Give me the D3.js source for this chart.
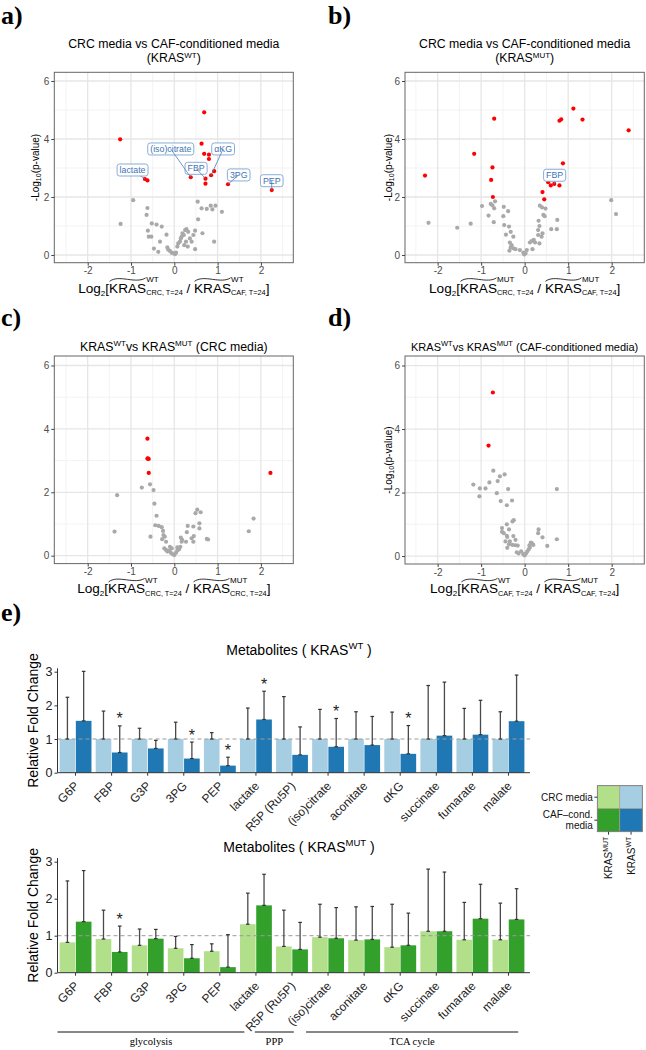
<!DOCTYPE html>
<html><head><meta charset="utf-8">
<script src="https://cdnjs.cloudflare.com/ajax/libs/d3/7.8.5/d3.min.js"></script>
<style>
body{margin:0;background:#fff}
svg{display:block}
text{font-family:"Liberation Sans",Arial,Helvetica,sans-serif;white-space:pre}
</style></head>
<body><svg id="c" width="646" height="1050"></svg>
<script>
// ---------------- DATA ----------------
// Volcano a) KRAS WT: CRC vs CAF-conditioned  [log2FC, -log10 p]
const aRed=[[-1.25,3.99],[0.69,4.92],[0.63,3.84],[0.69,3.49],[0.80,3.46],[0.80,3.31],[0.92,2.89],[0.85,2.75],[0.72,2.63],[0.72,2.46],[0.38,2.68],[-0.68,2.62],[-0.62,2.57],[1.24,2.44],[2.25,2.24]];
const aGray=[[-0.95,1.89],[-0.62,1.62],[-0.64,1.38],[-1.24,1.07],[-0.52,1.09],[-0.41,1.05],[-0.29,0.98],[-0.61,0.84],[-0.18,0.70],[-0.59,0.63],[-0.53,0.63],[-0.33,0.46],[-0.47,0.22],[-0.37,0.11],[-0.16,0.26],[-0.14,0.18],[-0.10,0.14],[-0.06,0.08],[-0.02,0.06],[0.02,0.03],[0.04,0.08],[0.07,0.29],[0.09,0.40],[0.13,0.46],[0.17,0.63],[0.19,0.75],[0.22,0.69],[0.25,0.86],[0.28,0.89],[0.32,0.80],[0.27,0.46],[0.31,0.29],[0.23,0.34],[0.36,0.57],[0.40,0.46],[0.44,0.69],[0.48,0.84],[0.48,0.20],[0.55,1.23],[0.54,1.84],[0.63,1.61],[0.75,1.59],[0.84,1.70],[0.88,1.57],[0.95,1.70],[1.10,1.49],[0.65,0.75],[0.92,0.46],[0.15,0.57]];
const aLabels=[{name:"lactate",x:-0.68,y:2.62},{name:"(iso)citrate",x:0.38,y:2.68},{name:"FBP",x:0.72,y:2.63},{name:"αKG",x:0.85,y:2.75},{name:"3PG",x:1.24,y:2.44},{name:"PEP",x:2.25,y:2.24}];

// Volcano b) KRAS MUT: CRC vs CAF-conditioned
const bRed=[[-2.29,2.74],[-1.16,3.49],[-0.70,4.70],[-0.74,3.02],[-0.77,2.59],[-0.73,2.00],[1.12,5.05],[1.33,4.67],[0.84,4.68],[0.80,4.63],[0.88,3.16],[2.39,4.30],[0.41,2.17],[0.45,1.92],[0.54,2.51],[0.60,2.40],[0.68,2.45],[0.80,2.40]];
const bGray=[[-2.21,1.11],[-1.55,0.94],[-1.24,1.08],[-0.98,1.69],[-0.83,1.36],[-0.78,1.76],[-0.74,1.71],[-0.70,1.61],[-0.68,1.85],[-0.71,1.13],[-0.48,1.66],[-0.38,1.51],[-0.49,1.34],[-0.47,1.03],[-0.36,0.98],[-0.32,0.80],[-0.26,0.63],[-0.43,0.70],[-0.34,0.43],[-0.30,0.34],[-0.32,0.26],[-0.35,0.15],[-0.26,0.23],[-0.21,0.20],[-0.11,0.17],[-0.03,0.08],[-0.01,0.02],[0.02,0.06],[0.05,0.17],[0.12,0.43],[0.16,0.48],[0.18,0.20],[0.21,0.52],[0.24,0.43],[0.31,0.69],[0.34,0.40],[0.31,0.86],[0.34,1.00],[0.32,1.18],[0.35,1.70],[0.40,1.64],[0.43,1.38],[0.48,1.60],[0.46,1.34],[0.41,0.75],[0.39,0.63],[0.61,0.89],[0.74,0.89],[0.75,1.21],[1.99,1.89],[2.10,1.41]];
const bLabels=[{name:"FBP",x:0.68,y:2.45}];

// Volcano c) WT vs MUT (CRC media)
const cRed=[[-0.62,3.69],[-0.61,3.07],[-0.59,3.05],[-0.62,3.06],[-0.59,2.61],[2.22,2.61]];
const cGray=[[-1.32,1.91],[-1.38,0.76],[-0.75,2.15],[-0.56,2.25],[-0.48,2.07],[-0.46,1.64],[-0.41,1.26],[-0.55,0.60],[-0.44,0.96],[-0.36,0.94],[-0.29,0.90],[-0.26,0.78],[-0.25,0.65],[-0.22,0.60],[-0.28,0.52],[-0.19,0.44],[-0.23,0.23],[-0.19,0.18],[-0.16,0.13],[-0.12,0.16],[-0.08,0.09],[-0.04,0.05],[0.00,0.02],[0.04,0.09],[0.07,0.16],[0.11,0.20],[0.14,0.28],[0.17,0.44],[0.15,0.57],[0.18,0.50],[0.27,0.44],[0.29,0.74],[0.31,0.94],[0.40,0.55],[0.44,0.44],[0.45,0.62],[0.44,0.92],[0.49,1.34],[0.53,1.45],[0.61,1.37],[0.58,1.02],[0.58,0.86],[0.75,0.53],[0.78,0.51],[1.72,0.77],[1.83,1.17],[-0.10,0.28],[-0.06,0.23],[0.07,0.26]];

// Volcano d) WT vs MUT (CAF-conditioned media)
const dRed=[[-0.73,5.15],[-0.83,3.48]];
const dGray=[[-1.18,2.25],[-1.03,2.13],[-0.90,2.13],[-0.81,2.32],[-1.04,1.88],[-0.72,2.69],[-0.62,2.36],[-0.57,2.51],[-0.46,2.57],[-0.64,1.98],[-0.38,2.11],[-0.55,1.73],[-0.41,1.60],[-0.29,1.75],[-0.28,1.09],[-0.25,1.13],[-0.41,1.00],[-0.52,0.88],[-0.52,0.76],[-0.48,0.72],[-0.36,0.84],[-0.41,0.64],[-0.40,0.60],[-0.26,0.63],[-0.44,0.46],[-0.34,0.46],[-0.36,0.37],[-0.21,0.51],[-0.21,0.34],[-0.28,0.35],[-0.40,0.26],[-0.16,0.33],[-0.18,0.12],[-0.14,0.08],[-0.08,0.15],[-0.03,0.06],[0.00,0.02],[0.03,0.08],[0.06,0.14],[0.09,0.21],[0.12,0.27],[0.14,0.42],[0.17,0.40],[0.20,0.35],[0.11,0.34],[0.32,0.84],[0.31,0.72],[0.41,0.59],[0.52,0.32],[0.74,2.11],[0.74,0.53]];

const volcanoXTicks=[-2,-1,0,1,2];
const volcanoYTicks=[0,2,4,6];

// Bar charts
const metabolites=["G6P","FBP","G3P","3PG","PEP","lactate","R5P (Ru5P)","(iso)citrate","aconitate","αKG","succinate","fumarate","malate"];
const wtCRC=[1,1,1,1,1,1,1,1,1,1,1,1,1];
const wtCRCsd=[1.24,0.83,0.32,0.50,0.19,0.92,1.26,0.88,0.81,0.80,1.59,0.91,0.81];
const wtCAF=[1.54,0.60,0.72,0.42,0.21,1.58,0.53,0.77,0.82,0.56,1.10,1.13,1.53];
const wtCAFsd=[1.47,0.79,0.24,0.49,0.25,0.84,0.83,0.84,0.85,0.84,1.59,1.02,1.37];
const wtSig=["FBP","3PG","PEP","lactate","(iso)citrate","αKG"];
const mutCRC=[0.82,0.91,0.74,0.66,0.58,1.31,0.71,0.96,0.88,0.69,1.12,0.89,0.89];
const mutCRCsd=[1.66,0.78,0.44,0.32,0.20,0.84,0.98,0.89,0.90,1.16,1.68,1.01,0.99];
const mutCAF=[1.38,0.56,0.92,0.39,0.15,1.82,0.63,0.93,0.90,0.74,1.12,1.46,1.44];
const mutCAFsd=[1.38,0.70,0.25,0.37,0.88,0.84,0.73,0.83,0.89,0.87,1.60,0.93,0.83];
const mutSig=["FBP"];
const barYTicks=[0,1,2,3];
const pathways=["glycolysis","PPP","TCA cycle"];
const legendRows=["CRC media","CAF\u2013cond.|media"];

// ---------------- DRAWING ----------------
const svg=d3.select("#c");
svg.append("rect").attr("width",646).attr("height",1050).attr("fill","#fff");

// rich text: segments laid out left to right; "stack" puts a segment at the same x as the previous one
function rich(parent,segs,x,y,anchor,base,color){
  const g=parent.append("g");
  let cx=0,lastStart=0;const placed=[];
  segs.forEach(s=>{
    const size=s.size||base;
    const sx=s.stack?lastStart:cx;
    const t=g.append("text").attr("x",sx).attr("y",s.dy||0).style("font-size",size+"px")
      .attr("fill",color||"#000").text(s.t);
    const w=t.node().getComputedTextLength();
    placed.push({s,x:sx,w,size});
    if(s.stack){cx=Math.max(cx,sx+w);}else{lastStart=sx;cx=sx+w;}
  });
  const off=anchor==="middle"?-cx/2:anchor==="end"?-cx:0;
  g.attr("transform",`translate(${x+off},${y})`);
  placed.filter(p=>p.s.hat).forEach(p=>{
    const x0=p.x+0.5,x1=p.x+p.w-0.5,yt=-p.size*0.93,w=x1-x0;
    g.append("path").attr("fill","none").attr("stroke",color||"#000").attr("stroke-width",0.8)
      .attr("d",`M${x0},${yt+1.5} C${x0+w*0.12},${yt-2} ${x0+w*0.3},${yt-1.5} ${x0+w*0.5},${yt-0.5} S${x1-w*0.12},${yt+1} ${x1},${yt-2}`);
  });
  return g;
}

function panelLetter(t,x,y){
  svg.append("text").attr("x",x).attr("y",y).text(t)
    .style("font-family",'"Liberation Serif","Times New Roman",serif').style("font-weight","bold").style("font-size","26px");
}

function volcano(o){
  const x=d3.scaleLinear().domain(o.xd).range([o.l,o.r]);
  const y=d3.scaleLinear().domain(o.yd).range([o.b,o.t]);
  const g=svg.append("g");
  g.append("rect").attr("x",o.l).attr("y",o.t).attr("width",o.r-o.l).attr("height",o.b-o.t).attr("fill","#fff");
  const xMinor=[-2.5,-1.5,-0.5,0.5,1.5,2.5],yMinor=[1,3,5];
  g.selectAll(".xm").data(xMinor).join("line").attr("x1",d=>x(d)).attr("x2",d=>x(d)).attr("y1",o.t).attr("y2",o.b).attr("stroke","#f0f0f0").attr("stroke-width",0.8);
  g.selectAll(".ym").data(yMinor).join("line").attr("y1",d=>y(d)).attr("y2",d=>y(d)).attr("x1",o.l).attr("x2",o.r).attr("stroke","#f0f0f0").attr("stroke-width",0.8);
  g.selectAll(".xM").data(volcanoXTicks).join("line").attr("x1",d=>x(d)).attr("x2",d=>x(d)).attr("y1",o.t).attr("y2",o.b).attr("stroke","#e6e6e6").attr("stroke-width",1.3);
  g.selectAll(".yM").data(volcanoYTicks).join("line").attr("y1",d=>y(d)).attr("y2",d=>y(d)).attr("x1",o.l).attr("x2",o.r).attr("stroke","#e6e6e6").attr("stroke-width",1.3);
  g.selectAll(".gp").data(o.gray).join("circle").attr("cx",d=>x(d[0])).attr("cy",d=>y(d[1])).attr("r",2.1).attr("fill","#a9a9a9");
  g.selectAll(".rp").data(o.red).join("circle").attr("cx",d=>x(d[0])).attr("cy",d=>y(d[1])).attr("r",2.1).attr("fill","#f00");
  (o.labels||[]).forEach(L=>{
    const px=x(L.x),py=y(L.y);const off=o.labelOff[L.name];
    const bx=px+off[0],by=py+off[1];
    g.append("line").attr("x1",px).attr("y1",py).attr("x2",bx).attr("y2",by).attr("stroke","#4f7fb8").attr("stroke-width",0.8);
    const t=g.append("text").attr("x",bx).attr("y",by+3.1).attr("text-anchor","middle").style("font-size","8.8px").attr("fill","#3e74b4").text(L.name);
    const w=t.node().getComputedTextLength();
    g.insert("rect","text").attr("x",bx-w/2-2.5).attr("y",by-6).attr("width",w+5).attr("height",12).attr("rx",2.5)
      .attr("fill","#fff").attr("stroke","#7da3d1").attr("stroke-width",0.9);
    t.raise();
  });
  g.append("rect").attr("x",o.l).attr("y",o.t).attr("width",o.r-o.l).attr("height",o.b-o.t).attr("fill","none").attr("stroke","#666").attr("stroke-width",1);
  const ax=g.append("g").attr("transform",`translate(0,${o.b})`).call(d3.axisBottom(x).tickValues(volcanoXTicks).tickSize(3).tickPadding(1.5).tickFormat(d=>String(d)));
  const ay=g.append("g").attr("transform",`translate(${o.l},0)`).call(d3.axisLeft(y).tickValues(volcanoYTicks).tickSize(3).tickPadding(2).tickFormat(d=>String(d)));
  [ax,ay].forEach(a=>{a.select(".domain").remove();a.selectAll("line").attr("stroke","#444");a.selectAll("text").style("font-size","10px").attr("fill","#4d4d4d").style("font-family",'"Liberation Sans",Arial,sans-serif');});
  const cx=(o.l+o.r)/2;
  o.title.forEach((segs,i)=>rich(svg,segs,cx,o.titleY[i],"middle",o.titleSize||12.3,"#000"));
  rich(svg,o.xTitle,cx,o.xTitleY,"middle",13.6,"#000");
  if(o.yTitleX){
    const gy=svg.append("g").attr("transform",`translate(${o.yTitleX},${(o.t+o.b)/2}) rotate(-90)`);
    rich(gy,[{t:"-Log"},{t:"10",size:7,dy:2.5},{t:"(p-value)"}],0,0,"middle",10,"#000");
  }
}

function xTitle(g1,a,g2,b){
  return [{t:"Log"},{t:"2",size:8,dy:3},{t:"["},{t:"KRAS",hat:true},{t:g1,size:8,dy:-10.5},{t:a,size:7.3,dy:2.5,stack:true},{t:" / "},{t:"KRAS",hat:true},{t:g2,size:8,dy:-10.5},{t:b,size:7.3,dy:2.5,stack:true},{t:"]"}];
}

panelLetter("a)",1,24);
panelLetter("b)",328,24);
panelLetter("c)",1,326);
panelLetter("d)",328,326);
panelLetter("e)",1,621);

volcano({l:54.3,r:293.3,t:72.3,b:262.7,xd:[-2.771,2.748],yd:[-0.266,6.3],red:aRed,gray:aGray,labels:aLabels,
  labelOff:{"lactate":[-12.3,-9],"(iso)citrate":[-20,-28.3],"FBP":[-9.4,-10.4],"αKG":[12,-26.3],"3PG":[10.7,-9.3],"PEP":[0,-9.3]},
  title:[[{t:"CRC media vs CAF-conditioned media"}],[{t:"(KRAS"},{t:"WT",size:8,dy:-3.8},{t:")"}]],titleY:[47.5,61.5],
  xTitle:xTitle("WT","CRC, T=24","WT","CAF, T=24"),xTitleY:292.5,yTitleX:38.5});
volcano({l:405,r:644.3,t:72.3,b:262.7,xd:[-2.75,2.75],yd:[-0.266,6.3],red:bRed,gray:bGray,labels:bLabels,
  labelOff:{"FBP":[0.4,-8.7]},
  title:[[{t:"CRC media vs CAF-conditioned media"}],[{t:"(KRAS"},{t:"MUT",size:8,dy:-3.8},{t:")"}]],titleY:[47.5,61.5],
  xTitle:xTitle("MUT","CRC, T=24","MUT","CAF, T=24"),xTitleY:292.5,yTitleX:391.5});
volcano({l:54.3,r:293.3,t:356,b:563.6,xd:[-2.771,2.748],yd:[-0.25,6.3],red:cRed,gray:cGray,
  title:[[{t:"KRAS"},{t:"WT",size:8,dy:-4.5},{t:"vs KRAS"},{t:"MUT",size:8,dy:-4.5},{t:" (CRC media)"}]],titleY:[350.5],
  xTitle:xTitle("WT","CRC, T=24","MUT","CRC, T=24"),xTitleY:593,yTitleX:null});
volcano({l:405,r:644.3,t:356,b:564,xd:[-2.75,2.75],yd:[-0.25,6.3],red:dRed,gray:dGray,titleSize:11,
  title:[[{t:"KRAS"},{t:"WT",size:7.5,dy:-4.2},{t:"vs KRAS"},{t:"MUT",size:7.5,dy:-4.2},{t:" (CAF-conditioned media)"}]],titleY:[350.5],
  xTitle:xTitle("WT","CAF, T=24","MUT","CAF, T=24"),xTitleY:593,yTitleX:391.5});

// ---------- bar charts ----------
const xBand=d3.scaleBand().domain(metabolites).range([57.5,526.5]).padding(0);
const bw=xBand.bandwidth()*0.45;

function barChart(o){
  const y=d3.scaleLinear().domain([0,3.1]).range([o.y0,o.y0-3.1*o.unit]);
  const g=svg.append("g");
  const [x0,x1]=xBand.range();
  metabolites.forEach((m,i)=>{
    const c=xBand(m)+xBand.bandwidth()/2;
    [[o.crc[i],o.light,c-bw],[o.caf[i],o.dark,c]].forEach(([v,col,bx])=>{
      g.append("rect").attr("x",bx+0.3).attr("y",y(v)).attr("width",bw-0.6).attr("height",y(0)-y(v)).attr("fill",col);
    });
  });
  g.append("line").attr("x1",x0).attr("x2",x1+3.5).attr("y1",y(1)).attr("y2",y(1)).attr("stroke","#9a9a9a").attr("stroke-width",1).attr("stroke-dasharray","4,3");
  metabolites.forEach((m,i)=>{
    const c=xBand(m)+xBand.bandwidth()/2;
    [[o.crc[i],o.crcSd[i],c-bw/2],[o.caf[i],o.cafSd[i],c+bw/2]].forEach(([v,sd,ex])=>{
      g.append("line").attr("x1",ex).attr("x2",ex).attr("y1",y(v)).attr("y2",y(v+sd)).attr("stroke","#4a4a4a").attr("stroke-width",1.3);
      g.append("line").attr("x1",ex-1.8).attr("x2",ex+1.8).attr("y1",y(v+sd)).attr("y2",y(v+sd)).attr("stroke","#333").attr("stroke-width",1.2);
      g.append("line").attr("x1",ex-1.8).attr("x2",ex+1.8).attr("y1",y(v)).attr("y2",y(v)).attr("stroke","#333").attr("stroke-width",1.2);
    });
    if(o.sig.includes(m)){
      g.append("text").attr("x",c+bw/2).attr("y",y(o.caf[i]+o.cafSd[i])-1.5).attr("text-anchor","middle").style("font-size","16px").attr("fill","#222").text("*");
    }
  });
  g.append("line").attr("x1",x0).attr("x2",x1+3.5).attr("y1",o.y0).attr("y2",o.y0).attr("stroke","#333").attr("stroke-width",1);
  const ay=g.append("g").attr("transform",`translate(${x0},0)`).call(d3.axisLeft(y).tickValues(barYTicks).tickSize(3).tickPadding(2).tickFormat(d=>String(d)));
  ay.select(".domain").attr("d",`M0,${y(3.1)}V${o.y0}`).attr("stroke","#333");
  ay.selectAll("line").attr("stroke","#333");
  ay.selectAll("text").style("font-size","12.5px").attr("fill","#222").style("font-family",'"Liberation Sans",Arial,sans-serif');
  metabolites.forEach(m=>{
    const c=xBand(m)+xBand.bandwidth()/2;
    g.append("line").attr("x1",c).attr("x2",c).attr("y1",o.y0).attr("y2",o.y0+3).attr("stroke","#333");
    g.append("text").attr("transform",`translate(${c+4},${o.y0+14}) rotate(-45)`).attr("text-anchor","end").style("font-size","12px").attr("fill","#222").text(m);
  });
  rich(svg,o.title,299,o.titleY,"middle",14,"#000");
  const gy=svg.append("g").attr("transform",`translate(38,${o.y0-1.55*o.unit}) rotate(-90)`);
  rich(gy,[{t:"Relative Fold Change"}],0,0,"middle",14,"#000");
}

barChart({y0:772.7,unit:33.67,crc:wtCRC,crcSd:wtCRCsd,caf:wtCAF,cafSd:wtCAFsd,sig:wtSig,light:"#a6cee3",dark:"#1f78b4",
  title:[{t:"Metabolites ( KRAS"},{t:"WT",size:9.5,dy:-6},{t:" )"}],titleY:655});
barChart({y0:972.7,unit:37,crc:mutCRC,crcSd:mutCRCsd,caf:mutCAF,cafSd:mutCAFsd,sig:mutSig,light:"#b2df8a",dark:"#33a02c",
  title:[{t:"Metabolites ( KRAS"},{t:"MUT",size:9.5,dy:-6},{t:" )"}],titleY:852});

// pathway brackets (in category-index units)
const pathSpan=[[-0.5,4.68],[4.97,6.05],[6.39,12.27]];
const idx=d3.scaleLinear().domain([-0.5,12.5]).range(xBand.range());
pathways.forEach((p,i)=>{
  const a=idx(pathSpan[i][0]),b=idx(pathSpan[i][1]);
  svg.append("line").attr("x1",a).attr("x2",b).attr("y1",1032).attr("y2",1032).attr("stroke","#111").attr("stroke-width",1);
  svg.append("text").attr("x",(a+b)/2).attr("y",1045).attr("text-anchor","middle").style("font-family",'"Liberation Serif","Times New Roman",serif').style("font-size","10.5px").text(p);
});

// legend tile
const lgX=597.3,lgY=785.7,cw=22.5,ch=23;
const tileCols=[["#b2df8a","#33a02c"],["#a6cee3","#1f78b4"]];
tileCols.forEach((col,ci)=>col.forEach((fill,ri)=>{
  svg.append("rect").attr("x",lgX+ci*cw).attr("y",lgY+ri*ch).attr("width",cw).attr("height",ch).attr("fill",fill).attr("stroke","#b09a8a").attr("stroke-width",0.6);
}));
svg.append("rect").attr("x",lgX).attr("y",lgY).attr("width",2*cw).attr("height",2*ch).attr("fill","none").attr("stroke","#777").attr("stroke-width",0.8);
legendRows.forEach((r,ri)=>{
  const cy=lgY+ri*ch+ch/2;
  svg.append("line").attr("x1",lgX-3).attr("x2",lgX).attr("y1",cy).attr("y2",cy).attr("stroke","#333");
  const lines=r.split("|");
  lines.forEach((ln,li)=>{
    svg.append("text").attr("x",lgX-4.5).attr("y",cy+3.5+(li-(lines.length-1)/2)*11).attr("text-anchor","end").style("font-size","10px").attr("fill","#111").text(ln);
  });
});
[["MUT",0],["WT",1]].forEach(([gt,ci])=>{
  const cx=lgX+ci*cw+cw/2;
  svg.append("line").attr("x1",cx).attr("x2",cx).attr("y1",lgY+2*ch).attr("y2",lgY+2*ch+3).attr("stroke","#333");
  const gg=svg.append("g").attr("transform",`translate(${cx+3.5},${lgY+2*ch+5}) rotate(-90)`);
  rich(gg,[{t:"KRAS"},{t:gt,size:7,dy:-4}],0,0,"end",10,"#111");
});
</script></body></html>
